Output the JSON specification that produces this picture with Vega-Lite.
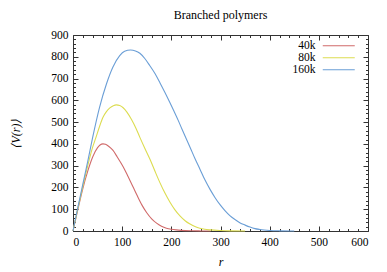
{
  "$schema": "https://vega.github.io/schema/vega-lite/v6.json",
  "width": 295,
  "height": 196,
  "autosize": {"type": "none"},
  "padding": {"left": 73, "top": 35, "right": 19, "bottom": 41},
  "background": "white",
  "config": {
    "font": "Liberation Serif",
    "view": {"stroke": "#333333", "strokeWidth": 1},
    "axis": {"domain": false, "grid": false, "labelFont": "Liberation Serif", "labelFontSize": 11.5, "labelColor": "#000000", "tickColor": "#333333", "titleFont": "Liberation Serif", "titleFontWeight": "normal", "titleColor": "#000000"},
    "legend": {"labelFont": "Liberation Serif"}
  },
  "title": {"text": "Branched polymers", "font": "Liberation Serif", "fontSize": 12, "fontWeight": "normal", "color": "#000000", "anchor": "middle", "offset": 7},
  "data": {"values": [
    {"r": 0, "V": 0, "s": "40k"}, {"r": 10, "V": 100, "s": "40k"}, {"r": 20, "V": 195, "s": "40k"}, {"r": 30, "V": 275, "s": "40k"}, {"r": 40, "V": 340, "s": "40k"}, {"r": 50, "V": 383, "s": "40k"}, {"r": 55, "V": 395, "s": "40k"}, {"r": 61, "V": 400, "s": "40k"}, {"r": 66, "V": 398, "s": "40k"}, {"r": 73, "V": 388, "s": "40k"}, {"r": 81, "V": 371, "s": "40k"}, {"r": 90, "V": 340, "s": "40k"}, {"r": 102, "V": 295, "s": "40k"}, {"r": 112, "V": 250, "s": "40k"}, {"r": 122, "V": 203, "s": "40k"}, {"r": 130, "V": 165, "s": "40k"}, {"r": 140, "V": 120, "s": "40k"}, {"r": 150, "V": 84, "s": "40k"}, {"r": 160, "V": 56, "s": "40k"}, {"r": 170, "V": 36, "s": "40k"}, {"r": 180, "V": 22, "s": "40k"}, {"r": 190, "V": 13, "s": "40k"}, {"r": 200, "V": 8, "s": "40k"}, {"r": 210, "V": 5, "s": "40k"}, {"r": 220, "V": 3, "s": "40k"}, {"r": 240, "V": 1, "s": "40k"}, {"r": 260, "V": 0.3, "s": "40k"}, {"r": 280, "V": 0, "s": "40k"},
    {"r": 0, "V": 0, "s": "80k"}, {"r": 10, "V": 105, "s": "80k"}, {"r": 20, "V": 205, "s": "80k"}, {"r": 30, "V": 300, "s": "80k"}, {"r": 40, "V": 385, "s": "80k"}, {"r": 46, "V": 425, "s": "80k"}, {"r": 54, "V": 480, "s": "80k"}, {"r": 61, "V": 522, "s": "80k"}, {"r": 68, "V": 548, "s": "80k"}, {"r": 75, "V": 565, "s": "80k"}, {"r": 82, "V": 575, "s": "80k"}, {"r": 88, "V": 579, "s": "80k"}, {"r": 95, "V": 576, "s": "80k"}, {"r": 102, "V": 566, "s": "80k"}, {"r": 110, "V": 545, "s": "80k"}, {"r": 119, "V": 512, "s": "80k"}, {"r": 128, "V": 472, "s": "80k"}, {"r": 136, "V": 430, "s": "80k"}, {"r": 146, "V": 380, "s": "80k"}, {"r": 157, "V": 327, "s": "80k"}, {"r": 167, "V": 273, "s": "80k"}, {"r": 177, "V": 221, "s": "80k"}, {"r": 187, "V": 174, "s": "80k"}, {"r": 197, "V": 133, "s": "80k"}, {"r": 207, "V": 98, "s": "80k"}, {"r": 218, "V": 68, "s": "80k"}, {"r": 228, "V": 47, "s": "80k"}, {"r": 238, "V": 32, "s": "80k"}, {"r": 248, "V": 21, "s": "80k"}, {"r": 258, "V": 13, "s": "80k"}, {"r": 268, "V": 8, "s": "80k"}, {"r": 279, "V": 5, "s": "80k"}, {"r": 299, "V": 2, "s": "80k"}, {"r": 320, "V": 0.5, "s": "80k"}, {"r": 350, "V": 0, "s": "80k"},
    {"r": 0, "V": 0, "s": "160k"}, {"r": 10, "V": 110, "s": "160k"}, {"r": 20, "V": 215, "s": "160k"}, {"r": 30, "V": 320, "s": "160k"}, {"r": 40, "V": 430, "s": "160k"}, {"r": 54, "V": 568, "s": "160k"}, {"r": 68, "V": 675, "s": "160k"}, {"r": 81, "V": 752, "s": "160k"}, {"r": 95, "V": 805, "s": "160k"}, {"r": 105, "V": 825, "s": "160k"}, {"r": 117, "V": 831, "s": "160k"}, {"r": 127, "V": 827, "s": "160k"}, {"r": 136, "V": 816, "s": "160k"}, {"r": 146, "V": 792, "s": "160k"}, {"r": 156, "V": 760, "s": "160k"}, {"r": 167, "V": 722, "s": "160k"}, {"r": 177, "V": 680, "s": "160k"}, {"r": 187, "V": 636, "s": "160k"}, {"r": 197, "V": 590, "s": "160k"}, {"r": 205, "V": 552, "s": "160k"}, {"r": 214, "V": 508, "s": "160k"}, {"r": 222, "V": 466, "s": "160k"}, {"r": 231, "V": 420, "s": "160k"}, {"r": 238, "V": 385, "s": "160k"}, {"r": 248, "V": 333, "s": "160k"}, {"r": 258, "V": 285, "s": "160k"}, {"r": 268, "V": 236, "s": "160k"}, {"r": 279, "V": 190, "s": "160k"}, {"r": 289, "V": 153, "s": "160k"}, {"r": 299, "V": 121, "s": "160k"}, {"r": 309, "V": 94, "s": "160k"}, {"r": 319, "V": 71, "s": "160k"}, {"r": 330, "V": 52, "s": "160k"}, {"r": 340, "V": 37, "s": "160k"}, {"r": 350, "V": 27, "s": "160k"}, {"r": 360, "V": 18, "s": "160k"}, {"r": 370, "V": 11, "s": "160k"}, {"r": 380, "V": 7, "s": "160k"}, {"r": 400, "V": 2.5, "s": "160k"}, {"r": 420, "V": 0.8, "s": "160k"}, {"r": 450, "V": 0, "s": "160k"}
  ]},
  "encoding": {
    "x": {"field": "r", "type": "quantitative", "scale": {"domain": [0, 600], "nice": false, "zero": false}},
    "y": {"field": "V", "type": "quantitative", "scale": {"domain": [0, 900], "nice": false}},
    "color": {"field": "s", "type": "nominal", "sort": ["40k", "80k", "160k"], "scale": {"domain": ["40k", "80k", "160k"], "range": ["#d06a6a", "#dcdc50", "#6a9ed6"]},
      "legend": {"title": null, "orient": "none", "legendX": 260, "legendY": 5, "symbolType": "M-8,0H8", "symbolSize": 16, "symbolStrokeWidth": 1.2, "labelAlign": "right", "labelOffset": -29, "labelFont": "Liberation Serif", "labelFontSize": 11.5, "labelColor": "#000000", "rowPadding": -1.5, "padding": 0}}
  },
  "resolve": {"axis": {"x": "independent", "y": "independent"}},
  "layer": [
    {
      "mark": {"type": "line", "strokeWidth": 1.1, "interpolate": "monotone"},
      "encoding": {
        "x": {"field": "r", "type": "quantitative", "axis": {"orient": "bottom", "title": "r", "titleFontStyle": "italic", "titleFontSize": 12, "titleY": 25, "labelFont": "Liberation Serif", "values": [0,20,40,60,80,100,120,140,160,180,200,220,240,260,280,300,320,340,360,380,400,420,440,460,480,500,520,540,560,580,600], "labelExpr": "datum.value % 100 === 0 ? datum.label : ''", "tickSize": {"condition": {"test": "datum.value % 100 === 0", "value": -5}, "value": -2.5}, "labelPadding": 10}},
        "y": {"field": "V", "type": "quantitative", "axis": {"orient": "left", "title": "⟨V(r)⟩", "titleFontStyle": "italic", "titleFontSize": 12, "titleX": -51, "titleY": 98, "labelFont": "Liberation Serif", "values": [0,20,40,60,80,100,120,140,160,180,200,220,240,260,280,300,320,340,360,380,400,420,440,460,480,500,520,540,560,580,600,620,640,660,680,700,720,740,760,780,800,820,840,860,880,900], "labelExpr": "datum.value % 100 === 0 ? datum.label : ''", "tickSize": {"condition": {"test": "datum.value % 100 === 0", "value": -5}, "value": -2.5}, "labelPadding": 10}}
      }
    },
    {
      "mark": {"type": "line", "strokeOpacity": 0},
      "encoding": {
        "x": {"field": "r", "type": "quantitative", "axis": {"orient": "top", "title": null, "labels": false, "values": [0,20,40,60,80,100,120,140,160,180,200,220,240,260,280,300,320,340,360,380,400,420,440,460,480,500,520,540,560,580,600], "tickSize": {"condition": {"test": "datum.value % 100 === 0", "value": -5}, "value": -2.5}}},
        "y": {"field": "V", "type": "quantitative", "axis": {"orient": "right", "title": null, "labels": false, "values": [0,20,40,60,80,100,120,140,160,180,200,220,240,260,280,300,320,340,360,380,400,420,440,460,480,500,520,540,560,580,600,620,640,660,680,700,720,740,760,780,800,820,840,860,880,900], "tickSize": {"condition": {"test": "datum.value % 100 === 0", "value": -5}, "value": -2.5}}}
      }
    }
  ]
}
